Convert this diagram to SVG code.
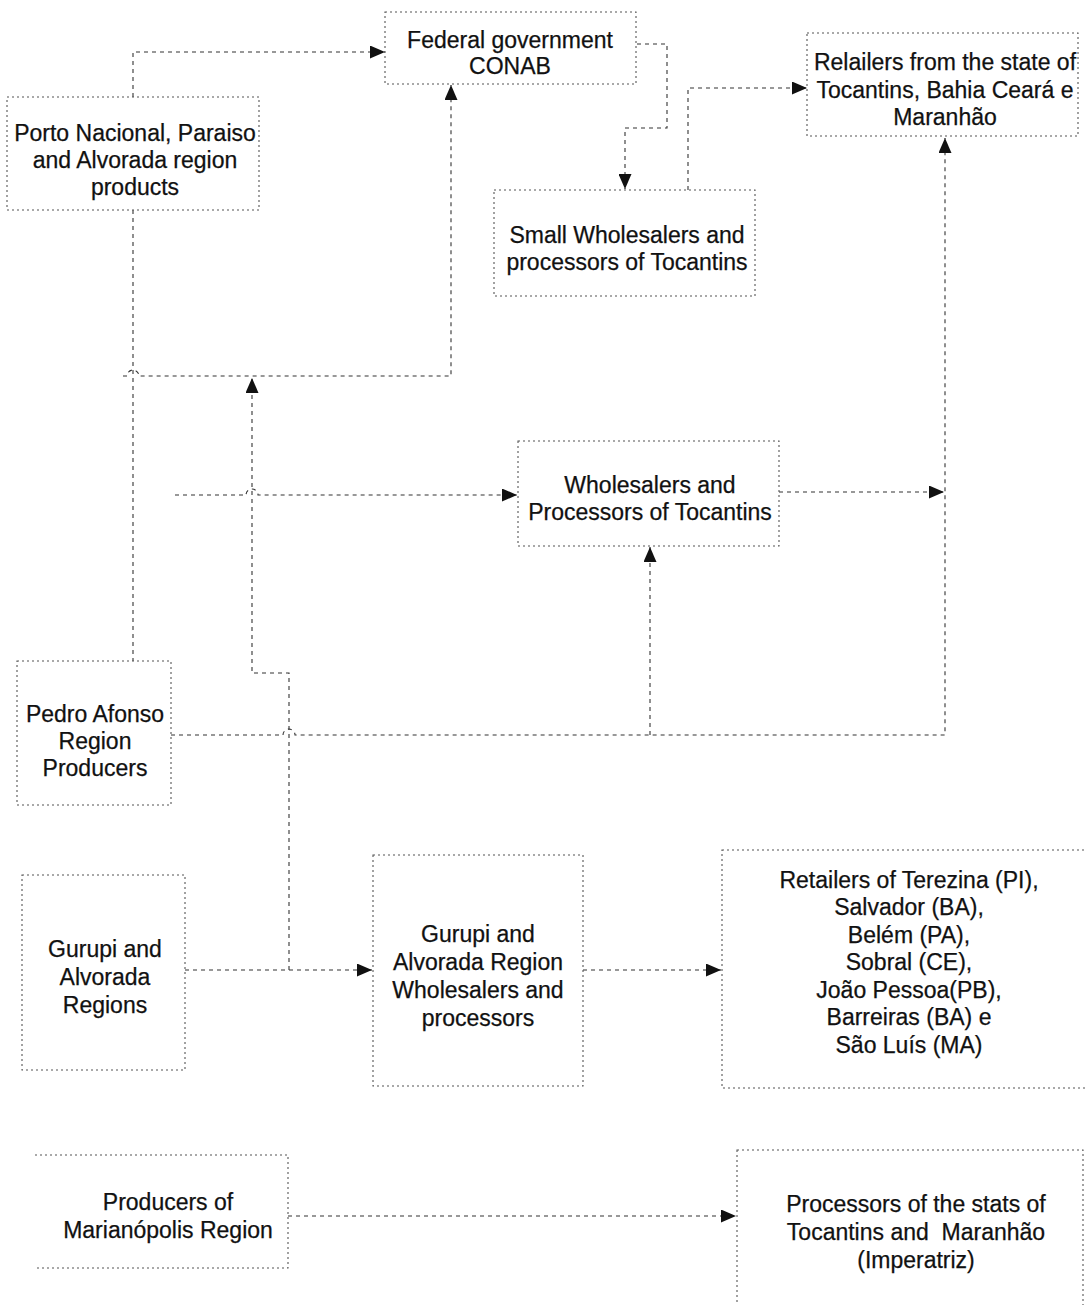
<svg xmlns="http://www.w3.org/2000/svg" width="1086" height="1305" viewBox="0 0 1086 1305">
  <style>
    .box { fill: #ffffff; stroke: #555555; stroke-width: 1.1; stroke-dasharray: 2 3; }
    .edge { fill: none; stroke: #333333; stroke-width: 1.1; stroke-dasharray: 4 4; }
    .lbl { font-family: "Liberation Sans", Arial, sans-serif; font-size: 23px; fill: #111111; stroke: #111111; stroke-width: 0.25; text-anchor: middle; }
  </style>
  <defs>
    <marker id="arrow" viewBox="0 0 15 13" refX="15" refY="6.5" markerWidth="15" markerHeight="13" markerUnits="userSpaceOnUse" orient="auto">
      <path d="M0,0 L15,6.5 L0,13 Z" fill="#111111"/>
    </marker>
  </defs>
  <rect width="1086" height="1305" fill="#ffffff"/>

  <!-- connectors -->
  <g id="connectors">
    <path class="edge" d="M133,97 V52 H385" marker-end="url(#arrow)"/>
    <path class="edge" d="M637,44 H667 V128 H625 V189" marker-end="url(#arrow)"/>
    <path class="edge" d="M688,190 V88 H807" marker-end="url(#arrow)"/>
    <path class="edge" d="M133,210 V661"/>
    <path class="edge" d="M123,376 H127 a6,6 0 0 1 12,0 H451 V85" marker-end="url(#arrow)"/>
    <path class="edge" d="M289,970 V673 H252 V378" marker-end="url(#arrow)"/>
    <path class="edge" d="M175,495 H246 a6,6 0 0 1 12,0 H517" marker-end="url(#arrow)"/>
    <path class="edge" d="M171,735 H283 a6,6 0 0 1 12,0 H945 V138" marker-end="url(#arrow)"/>
    <path class="edge" d="M650,735 V547" marker-end="url(#arrow)"/>
    <path class="edge" d="M779,492 H944" marker-end="url(#arrow)"/>
    <path class="edge" d="M185,970 H372" marker-end="url(#arrow)"/>
    <path class="edge" d="M583,970 H721" marker-end="url(#arrow)"/>
    <path class="edge" d="M288,1216 H736" marker-end="url(#arrow)"/>
  </g>

  <!-- nodes -->
  <g id="conab">
    <rect class="box" x="385" y="12" width="251" height="72"/>
    <text class="lbl" x="510" y="48">Federal government</text>
    <text class="lbl" x="510" y="74">CONAB</text>
  </g>
  <g id="porto-nacional">
    <rect class="box" x="7" y="97" width="252" height="113"/>
    <text class="lbl" x="135" y="141">Porto Nacional, Paraiso</text>
    <text class="lbl" x="135" y="168">and Alvorada region</text>
    <text class="lbl" x="135" y="195">products</text>
  </g>
  <g id="relailers">
    <rect class="box" x="807" y="33" width="271" height="103"/>
    <text class="lbl" x="945" y="70">Relailers from the state of</text>
    <text class="lbl" x="945" y="98">Tocantins, Bahia Ceará e</text>
    <text class="lbl" x="945" y="125">Maranhão</text>
  </g>
  <g id="small-wholesalers">
    <rect class="box" x="494" y="190" width="261" height="106"/>
    <text class="lbl" x="627" y="243">Small Wholesalers and</text>
    <text class="lbl" x="627" y="270">processors of Tocantins</text>
  </g>
  <g id="wholesalers">
    <rect class="box" x="518" y="441" width="261" height="105"/>
    <text class="lbl" x="650" y="493">Wholesalers and</text>
    <text class="lbl" x="650" y="520">Processors of Tocantins</text>
  </g>
  <g id="pedro-afonso">
    <rect class="box" x="17" y="661" width="154" height="144"/>
    <text class="lbl" x="95" y="722">Pedro Afonso</text>
    <text class="lbl" x="95" y="749">Region</text>
    <text class="lbl" x="95" y="776">Producers</text>
  </g>
  <g id="gurupi-regions">
    <rect class="box" x="22" y="875" width="163" height="195"/>
    <text class="lbl" x="105" y="957">Gurupi and</text>
    <text class="lbl" x="105" y="985">Alvorada</text>
    <text class="lbl" x="105" y="1013">Regions</text>
  </g>
  <g id="gurupi-wholesalers">
    <rect class="box" x="373" y="855" width="210" height="231"/>
    <text class="lbl" x="478" y="942">Gurupi and</text>
    <text class="lbl" x="478" y="970">Alvorada Region</text>
    <text class="lbl" x="478" y="998">Wholesalers and</text>
    <text class="lbl" x="478" y="1026">processors</text>
  </g>
  <g id="retailers-northeast">
    <rect class="box" x="722" y="850" width="370" height="238"/>
    <text class="lbl" x="909" y="888">Retailers of Terezina (PI),</text>
    <text class="lbl" x="909" y="915">Salvador (BA),</text>
    <text class="lbl" x="909" y="943">Belém (PA),</text>
    <text class="lbl" x="909" y="970">Sobral (CE),</text>
    <text class="lbl" x="909" y="998">João Pessoa(PB),</text>
    <text class="lbl" x="909" y="1025">Barreiras (BA) e</text>
    <text class="lbl" x="909" y="1053">São Luís (MA)</text>
  </g>
  <g id="marianopolis">
    <path class="box" d="M35,1155 H288 V1268 H35"/>
    <text class="lbl" x="168" y="1210">Producers of</text>
    <text class="lbl" x="168" y="1238">Marianópolis Region</text>
  </g>
  <g id="processors-ma">
    <rect class="box" x="737" y="1150" width="346" height="165"/>
    <text class="lbl" x="916" y="1212">Processors of the stats of</text>
    <text class="lbl" x="916" y="1240" xml:space="preserve">Tocantins and  Maranhão</text>
    <text class="lbl" x="916" y="1268">(Imperatriz)</text>
  </g>
</svg>
